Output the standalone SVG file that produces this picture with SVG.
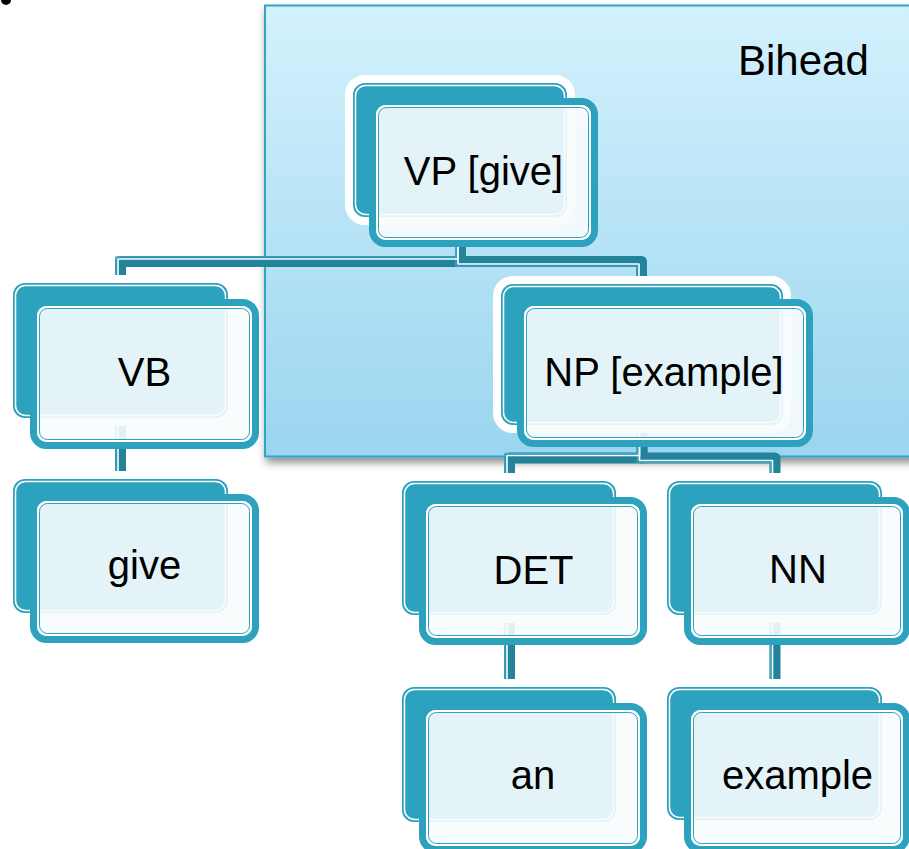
<svg xmlns="http://www.w3.org/2000/svg" width="909" height="849" viewBox="0 0 909 849">
  <defs>
    <linearGradient id="boxFill" x1="0" y1="0" x2="0" y2="1">
      <stop offset="0" stop-color="#d4f1fd"/>
      <stop offset="0.5" stop-color="#b7e3f6"/>
      <stop offset="1" stop-color="#9bd5ef"/>
    </linearGradient>
    <filter id="shadow" x="-10%" y="-10%" width="130%" height="130%">
      <feDropShadow dx="2" dy="5" stdDeviation="4" flood-color="#000" flood-opacity="0.45"/>
    </filter>
    <style>
      .glow { fill: none; stroke: #ffffff; stroke-width: 16; }
      .back { fill: #2da2bf; }
      .backline { fill: none; stroke: #ffffff; stroke-width: 1.5; }
      .ring { fill: #f8fcfd; fill-opacity: 0.9; stroke: #2da2bf; stroke-width: 7; }
      .frontline { fill: none; stroke: #ffffff; stroke-width: 2; }
      .frontline2 { fill: none; stroke: #2da2bf; stroke-width: 1; }
      .band { fill: none; stroke: #23839b; stroke-width: 11; stroke-linejoin: round; }
      .hl { fill: none; stroke: #ffffff; stroke-width: 1.6; stroke-linejoin: round; }
      .edge { fill: none; stroke: #3aa9c5; stroke-width: 1.3; stroke-linejoin: round; }
      .lbl { font-family: "Liberation Sans", Arial, sans-serif; font-size: 40px; text-anchor: middle; fill: #000000; }
    </style>
  </defs>

  <rect x="0" y="0" width="909" height="849" fill="#ffffff"/>

  <!-- stray bullet at the top-left corner -->
  <circle cx="6" cy="0" r="5" fill="#000000"/>

  <!-- highlighted "Bihead" region -->
  <g id="bihead">
    <rect x="265" y="5.5" width="660" height="451" fill="url(#boxFill)" stroke="#2fa7c5" stroke-width="2" filter="url(#shadow)"/>
    <text x="738" y="75" style="font-family: 'Liberation Sans', Arial, sans-serif; font-size: 42px; fill: #000000;">Bihead</text>
  </g>

  <!-- connectors -->
  <g id="connectors">
    <path class="band" d="M460.5,240 V261.5 H120.5 V288"/>
    <path class="band" d="M460.5,240 V261.5 H641.5 V288"/>
    <path class="band" d="M120.5,415 V484"/>
    <path class="band" d="M642,430 V458 H509.5 V486"/>
    <path class="band" d="M642,430 V458 H775 V486"/>
    <path class="band" d="M509.5,612 V692"/>
    <path class="band" d="M775,612 V692"/>

    <path class="edge" d="M455.9,240 V266.1 H636.9 V288"/>
    <path class="hl" d="M458,240 V264 H639 V288"/>
    <path class="edge" d="M455.9,240 V256.9 H115.9 V288"/>
    <path class="hl" d="M458,240 V259 H118 V288"/>
    <path class="edge" d="M115.9,415 V484"/>
    <path class="hl" d="M118,415 V484"/>
    <path class="edge" d="M637.4,430 V462.6 H770.4 V486"/>
    <path class="hl" d="M639.5,430 V460.5 H772.5 V486"/>
    <path class="edge" d="M637.4,430 V453.4 H504.9 V486"/>
    <path class="hl" d="M639.5,430 V455.5 H507 V486"/>
    <path class="edge" d="M504.9,612 V692"/>
    <path class="hl" d="M507,612 V692"/>
    <path class="edge" d="M770.4,612 V692"/>
    <path class="hl" d="M772.5,612 V692"/>
  </g>

  <!-- nodes: back card + front card + label -->
  <g id="node-vp">
    <rect class="glow" x="353" y="83" width="214" height="134" rx="12"/>
    <rect class="back" x="353" y="83" width="214" height="134" rx="12"/>
    <rect class="backline" x="355.5" y="85.5" width="209" height="129" rx="10"/>
    <rect class="ring" x="372.5" y="101.5" width="222" height="142" rx="13"/>
    <rect class="frontline" x="377" y="106" width="213" height="133" rx="9"/>
    <rect class="frontline2" x="378.5" y="107.5" width="210" height="130" rx="8"/>
    <text class="lbl" x="483.5" y="185">VP [give]</text>
  </g>

  <g id="node-vb">
    <rect class="glow" x="13" y="283" width="215" height="135" rx="12"/>
    <rect class="back" x="13" y="283" width="215" height="135" rx="12"/>
    <rect class="backline" x="15.5" y="285.5" width="210" height="130" rx="10"/>
    <rect class="ring" x="33.5" y="302.5" width="222" height="143" rx="13"/>
    <rect class="frontline" x="38" y="307" width="213" height="134" rx="9"/>
    <rect class="frontline2" x="39.5" y="308.5" width="210" height="131" rx="8"/>
    <text class="lbl" x="144.5" y="386">VB</text>
  </g>

  <g id="node-give">
    <rect class="glow" x="13" y="479" width="215" height="134" rx="12"/>
    <rect class="back" x="13" y="479" width="215" height="134" rx="12"/>
    <rect class="backline" x="15.5" y="481.5" width="210" height="129" rx="10"/>
    <rect class="ring" x="33.5" y="497.5" width="222" height="142" rx="13"/>
    <rect class="frontline" x="38" y="502" width="213" height="133" rx="9"/>
    <rect class="frontline2" x="39.5" y="503.5" width="210" height="130" rx="8"/>
    <text class="lbl" x="144.5" y="579">give</text>
  </g>

  <g id="node-np">
    <rect class="glow" x="501" y="284" width="282" height="141" rx="12"/>
    <rect class="back" x="501" y="284" width="282" height="141" rx="12"/>
    <rect class="backline" x="503.5" y="286.5" width="277" height="136" rx="10"/>
    <rect class="ring" x="520.5" y="302.5" width="289" height="141" rx="13"/>
    <rect class="frontline" x="525" y="307" width="280" height="132" rx="9"/>
    <rect class="frontline2" x="526.5" y="308.5" width="277" height="129" rx="8"/>
    <text class="lbl" x="664" y="386">NP [example]</text>
  </g>

  <g id="node-det">
    <rect class="glow" x="402" y="481" width="214" height="134" rx="12"/>
    <rect class="back" x="402" y="481" width="214" height="134" rx="12"/>
    <rect class="backline" x="404.5" y="483.5" width="209" height="129" rx="10"/>
    <rect class="ring" x="422.5" y="500.5" width="221" height="141" rx="13"/>
    <rect class="frontline" x="427" y="505" width="212" height="132" rx="9"/>
    <rect class="frontline2" x="428.5" y="506.5" width="209" height="129" rx="8"/>
    <text class="lbl" x="533.5" y="584">DET</text>
  </g>

  <g id="node-nn">
    <rect class="glow" x="667" y="481" width="215" height="134" rx="12"/>
    <rect class="back" x="667" y="481" width="215" height="134" rx="12"/>
    <rect class="backline" x="669.5" y="483.5" width="210" height="129" rx="10"/>
    <rect class="ring" x="687.5" y="500.5" width="219" height="141" rx="13"/>
    <rect class="frontline" x="692" y="505" width="210" height="132" rx="9"/>
    <rect class="frontline2" x="693.5" y="506.5" width="207" height="129" rx="8"/>
    <text class="lbl" x="798" y="583">NN</text>
  </g>

  <g id="node-an">
    <rect class="glow" x="402" y="687" width="214" height="135" rx="12"/>
    <rect class="back" x="402" y="687" width="214" height="135" rx="12"/>
    <rect class="backline" x="404.5" y="689.5" width="209" height="130" rx="10"/>
    <rect class="ring" x="422.5" y="706.5" width="221" height="143" rx="13"/>
    <rect class="frontline" x="427" y="711" width="212" height="134" rx="9"/>
    <rect class="frontline2" x="428.5" y="712.5" width="209" height="131" rx="8"/>
    <text class="lbl" x="533" y="789">an</text>
  </g>

  <g id="node-example">
    <rect class="glow" x="667" y="687" width="215" height="133" rx="12"/>
    <rect class="back" x="667" y="687" width="215" height="133" rx="12"/>
    <rect class="backline" x="669.5" y="689.5" width="210" height="128" rx="10"/>
    <rect class="ring" x="687.5" y="706.5" width="219" height="143" rx="13"/>
    <rect class="frontline" x="692" y="711" width="210" height="134" rx="9"/>
    <rect class="frontline2" x="693.5" y="712.5" width="207" height="131" rx="8"/>
    <text class="lbl" x="797.5" y="789">example</text>
  </g>
</svg>
